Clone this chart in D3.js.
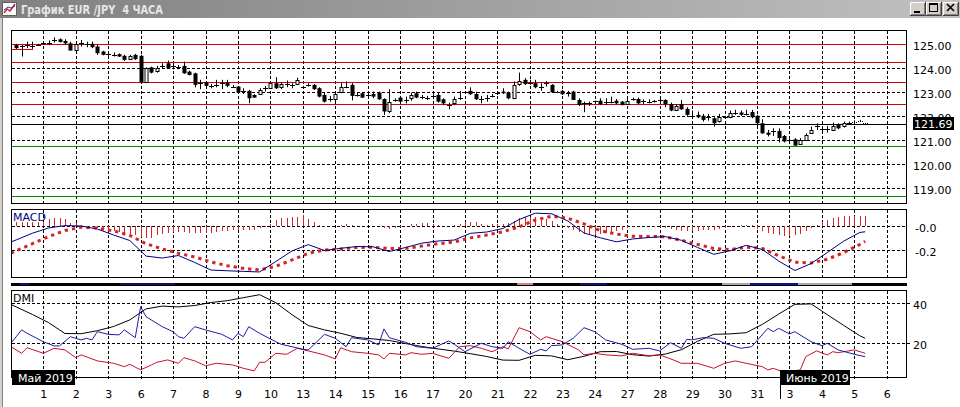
<!DOCTYPE html>
<html><head><meta charset="utf-8">
<script src="https://cdn.jsdelivr.net/npm/d3@7"></script>
<style>html,body{margin:0;padding:0;background:#fff;overflow:hidden}</style>
</head><body>
<svg id="c" width="960" height="407" xmlns="http://www.w3.org/2000/svg"></svg>
<script>
// ---------------- DATA ----------------
const titleText = "График EUR /JPY  4 ЧАСА";
const dayLabels = ["1","2","3","6","7","8","9","10","13","14","15","16","17","20","21","22","23","24","27","28","29","30","31","3","4","5","6"];
const monthLabels = ["Май 2019", "Июнь 2019"];
const priceTicks = [125,124,123,122,121,120,119];
const redLevels = [124.985, 124.235, 123.40, 122.499];
const greenLevels = [120.735, 118.67];
const lastPrice = 121.69;
const macdTicks = [0, -0.2];
const macdTickLabels = ["-0.0", "-0.2"];
const dmiTicks = [40, 20];
const firstCandle = -5; // candle index of first bar (6 bars per day, index 0 = May 1 00:00)
// [open, high, low, close]
const candles = [
[124.97,125.02,124.81,124.84],[124.90,124.97,124.49,124.91],[124.93,125.11,124.84,124.96],[124.95,125.11,124.84,124.93],[124.97,125.02,124.93,124.98],
[125.03,125.11,124.97,125.05],[125.05,125.16,124.97,125.04],[125.17,125.29,125.07,125.18],[125.21,125.25,125.07,125.10],[125.14,125.21,124.97,125.04],
[125.04,125.11,124.74,124.74],[124.79,125.04,124.77,125.02],[125.03,125.18,124.91,125.04],[125.02,125.11,124.88,125.01],[125.02,125.11,124.84,124.88],
[124.91,124.98,124.56,124.63],[124.70,124.73,124.54,124.56],[124.61,124.66,124.52,124.60],[124.57,124.66,124.49,124.56],[124.59,124.62,124.47,124.49],
[124.52,124.56,124.31,124.35],[124.38,124.56,124.35,124.52],[124.56,124.60,124.35,124.38],[124.52,124.56,123.38,123.41],[123.41,124.04,123.38,124.00],
[124.04,124.07,123.79,123.82],[123.86,124.10,123.82,124.00],[124.09,124.21,124.00,124.10],[124.21,124.32,124.00,124.00],[124.07,124.21,123.96,124.08],
[124.04,124.14,123.96,124.05],[124.10,124.28,123.77,123.79],[123.86,123.90,123.71,123.72],[123.79,123.82,123.21,123.31],[123.38,123.52,123.13,123.37],
[123.41,123.45,123.24,123.27],[123.27,123.35,123.17,123.26],[123.30,123.52,123.21,123.31],[123.37,123.52,123.13,123.38],[123.41,123.52,123.21,123.27],
[123.27,123.30,123.19,123.21],[123.24,123.27,122.99,123.00],[123.05,123.17,122.93,123.06],[123.06,123.10,122.54,122.75],[122.89,122.92,122.76,122.78],
[122.92,123.17,122.89,123.10],[123.17,123.27,123.03,123.18],[123.17,123.41,123.14,123.38],[123.38,123.63,123.14,123.17],[123.21,123.41,123.13,123.35],
[123.35,123.49,123.21,123.36],[123.31,123.38,123.17,123.30],[123.35,123.61,123.31,123.52],[123.21,123.27,123.14,123.20],[123.31,123.38,123.24,123.30],
[123.31,123.34,123.10,123.13],[123.17,123.21,122.79,122.82],[122.89,122.99,122.57,122.61],[122.75,122.85,122.61,122.74],[122.72,122.99,122.61,122.93],
[123.00,123.38,122.96,123.21],[123.23,123.45,123.17,123.24],[123.31,123.38,122.66,122.85],[122.89,122.99,122.82,122.90],[122.96,122.99,122.76,122.78],
[122.89,122.99,122.82,122.88],[122.93,123.03,122.75,122.82],[122.99,123.03,122.68,122.71],[122.72,122.75,122.06,122.20],[122.24,123.13,122.13,122.61],
[122.68,122.75,122.61,122.69],[122.78,122.85,122.57,122.61],[122.68,122.82,122.54,122.67],[122.75,122.99,122.65,122.89],[122.96,123.03,122.75,122.78],
[122.78,122.89,122.71,122.79],[122.75,122.85,122.68,122.76],[122.82,122.92,122.71,122.83],[122.89,122.99,122.57,122.61],[122.71,122.75,122.47,122.54],
[122.47,122.57,122.29,122.48],[122.54,122.82,122.47,122.71],[122.75,123.06,122.68,122.76],[122.99,123.03,122.93,123.00],[123.06,123.21,122.89,122.92],
[122.93,123.03,122.68,122.71],[122.71,122.85,122.54,122.72],[122.75,122.89,122.61,122.76],[122.85,122.93,122.79,122.86],[122.96,123.03,122.89,122.97],
[123.03,123.17,122.93,122.96],[122.99,123.03,122.71,122.75],[122.75,123.45,122.71,123.31],[123.38,123.82,123.27,123.49],[123.52,123.59,123.31,123.34],
[123.38,123.52,123.31,123.37],[123.38,123.52,123.17,123.21],[123.21,123.38,123.06,123.20],[123.38,123.47,123.24,123.37],[123.31,123.34,122.99,123.00],
[123.04,123.06,122.99,123.03],[123.06,123.10,122.89,122.92],[122.96,123.06,122.82,122.95],[123.03,123.06,122.68,122.68],[122.68,122.75,122.43,122.47],
[122.54,122.61,122.17,122.55],[122.54,122.61,122.43,122.55],[122.61,122.65,122.51,122.62],[122.65,122.75,122.47,122.51],[122.61,122.75,122.47,122.60],
[122.57,122.82,122.54,122.58],[122.65,122.72,122.51,122.54],[122.61,122.64,122.45,122.47],[122.51,122.72,122.47,122.65],[122.72,122.78,122.65,122.73],
[122.72,122.78,122.51,122.54],[122.61,122.71,122.51,122.62],[122.61,122.71,122.54,122.60],[122.61,122.68,122.57,122.62],[122.65,122.75,122.57,122.66],
[122.68,122.71,122.38,122.51],[122.51,122.57,122.21,122.24],[122.27,122.51,122.24,122.43],[122.51,122.68,122.27,122.29],[122.31,122.38,122.02,122.06],
[122.02,122.24,121.96,122.01],[122.06,122.20,121.92,121.96],[122.02,122.10,121.78,121.85],[121.96,122.10,121.82,121.97],[121.92,121.96,121.57,121.71],
[121.78,122.10,121.74,121.95],[121.96,122.02,121.92,121.97],[121.96,122.24,121.92,122.13],[122.16,122.27,122.06,122.15],[122.16,122.24,122.02,122.06],
[122.10,122.27,122.04,122.11],[122.18,122.27,121.92,121.96],[122.02,122.06,121.57,121.71],[121.71,121.88,121.27,121.29],[121.32,121.43,121.16,121.23],
[121.36,121.50,121.18,121.37],[121.39,121.50,120.91,121.09],[121.18,121.22,120.91,120.95],[121.02,121.09,120.95,121.01],[121.04,121.09,120.77,120.78],
[120.85,121.09,120.81,121.02],[121.02,121.29,120.99,121.22],[121.29,121.57,121.27,121.41],[121.57,121.71,121.43,121.58],[121.47,121.57,121.29,121.48],
[121.46,121.60,121.32,121.47],[121.43,121.74,121.39,121.60],[121.64,121.71,121.46,121.50],[121.57,121.78,121.53,121.71],[121.71,121.78,121.64,121.72],
[121.78,121.83,121.71,121.77],[121.82,121.85,121.78,121.82],[121.71,121.73,121.69,121.70]
];
// MACD histogram, one value per candle
const macdHist = [
 0.033,0.033,0.033,0.033,0.033,0.033,0.058,0.067,0.067,0.058,
 0.025,0.025,0.008,0,-0.008,-0.017,-0.025,-0.033,-0.042,-0.05,
 -0.058,-0.067,-0.075,-0.092,-0.1,-0.1,-0.075,-0.067,-0.058,-0.05,
 -0.05,-0.05,-0.058,-0.058,-0.058,-0.058,-0.058,-0.05,-0.042,-0.042,
 -0.033,-0.033,-0.033,-0.033,-0.033,-0.017,-0.008,0.017,0.05,0.067,
 0.067,0.075,0.075,0.092,0.058,0.033,0.008,-0.008,0,0,
 0.008,0.017,0.008,0,0,0,0,0,-0.017,-0.025,
 -0.017,-0.008,0,0.017,0.017,0.025,0.025,0.017,0.008,0,
 0,0.008,0.017,0.033,0.033,0.033,0.017,0.008,0.017,0.017,
 0.017,0.025,0.042,0.067,0.075,0.075,0.075,0.067,0.058,0.042,
 0.017,0.008,-0.017,-0.033,-0.05,-0.067,-0.075,-0.075,-0.067,-0.058,
 -0.05,-0.042,-0.033,-0.017,-0.008,0,0,0,-0.008,-0.008,
 -0.017,-0.025,-0.033,-0.042,-0.042,-0.042,-0.042,-0.033,-0.033,-0.033,
 -0.025,-0.017,-0.008,0,0.008,0.008,0.008,-0.025,-0.042,-0.058,
 -0.067,-0.075,-0.083,-0.083,-0.075,-0.067,-0.042,-0.017,0.008,0.033,
 0.05,0.067,0.075,0.083,0.083,0.083,0.083,0.083
];
// smooth lines: read at bar -6, then every 3 bars (-5, -2, ... 151), then last bar 152
const macdLine = [
 -0.133,
 -0.116,-0.060,-0.016,0.003,0.000,-0.025,-0.075,-0.121,-0.251,-0.267,
 -0.246,-0.304,-0.367,-0.373,-0.378,-0.383,-0.296,-0.208,-0.155,-0.204,
 -0.186,-0.171,-0.173,-0.213,-0.179,-0.143,-0.125,-0.117,-0.061,-0.050,
 -0.021,0.054,0.107,0.102,0.042,-0.058,-0.098,-0.132,-0.108,-0.096,
 -0.088,-0.119,-0.179,-0.236,-0.206,-0.161,-0.196,-0.292,-0.371,-0.313,
 -0.221,-0.127,-0.054,-0.048
];
const signalLine = [
 -0.225,
 -0.207,-0.147,-0.088,-0.038,-0.010,-0.017,-0.040,-0.079,-0.148,-0.191,
 -0.228,-0.258,-0.299,-0.331,-0.353,-0.366,-0.336,-0.283,-0.227,-0.200,
 -0.192,-0.179,-0.177,-0.188,-0.188,-0.167,-0.148,-0.133,-0.099,-0.075,
 -0.048,-0.007,0.050,0.082,0.065,0.018,-0.039,-0.067,-0.086,-0.087,
 -0.090,-0.119,-0.153,-0.187,-0.197,-0.177,-0.187,-0.248,-0.301,-0.308,
 -0.277,-0.222,-0.154,-0.128
];
const adxLine = [
 39.4,
 38.2,34.4,30.3,24.9,24.8,26.3,28.4,31.7,37.2,38.6,
 38.2,38.9,40.4,41.3,42.8,44.3,40.3,34.3,28.9,26.7,
 25.0,22.9,22.2,21.4,19.9,18.4,17.2,16.1,14.8,13.4,
 11.6,11.5,14.0,13.7,11.8,13.5,15.8,15.9,14.3,13.6,
 14.6,16.8,21.0,24.5,24.7,25.3,29.5,34.6,39.5,39.7,
 34.3,29.0,23.8,22.5
];
// jagged DI lines: [bar index, value]
const plusDI = [[-6,20],[-4,26.7],[-3,25],[0,20.8],[2,18.7],[3,18.7],[5,23.3],[7,21.7],[8,22.5],[9,21.7],[10,25.8],[12,24.5],[14,24.2],[15,26.7],[17,22.8],[18,38.3],[19,33.3],[22,28.3],[24,25.8],[25,23.3],[26,22.5],[28,28.3],[30,26.7],[33,24.5],[35,21.7],[36,25],[37,23.3],[38,28.3],[40,25],[43,20.8],[44,19.5],[46,18.3],[48,17],[49,16.7],[50,19.2],[52,24.5],[54,22.5],[56,18.3],[57,22.8],[60,21.7],[62,19.2],[63,27.2],[64,22.8],[67,20.5],[69,18.3],[72,17.5],[75,21.2],[76,19.5],[78,15.8],[81,20],[83,18.3],[85,17.5],[86,20.8],[88,17.5],[90,14.5],[92,17],[93,16.2],[94,18.8],[96,19.2],[98,22.5],[100,27.8],[102,25.8],[104,21.7],[107,19.5],[109,17],[112,17.5],[114,16.2],[116,20.3],[118,17.5],[119,22],[120,21.7],[122,22.8],[124,22.5],[126,20],[129,17.5],[131,18.3],[134,27.5],[135,25.8],[136,27.5],[138,24.7],[139,25.8],[142,20.8],[144,18.8],[145,20],[147,16.7],[150,14.5],[152,13.3]];
const minusDI = [[-6,18.3],[-4,15],[-3,17.8],[0,15],[2,17.5],[4,16.7],[6,12.8],[7,14.2],[10,11.2],[13,10],[15,8.3],[16,9.5],[18,6.7],[20,9.2],[21,10.5],[23,11.7],[25,10],[26,12.8],[28,11.2],[30,8.8],[32,10],[35,9.2],[37,7.5],[39,6.2],[40,10.5],[41,10.5],[43,15],[45,14.5],[47,17.5],[49,16.2],[52,14.2],[54,12.2],[55,17.8],[57,15.8],[60,15],[62,14.2],[63,12.2],[64,15],[67,14.2],[68,15.3],[70,14.5],[72,15],[75,12.5],[77,18.3],[79,18.8],[81,17.5],[83,15.8],[85,18.3],[86,17.2],[88,27.8],[90,25.8],[92,21.7],[93,23.3],[96,20.8],[99,16.7],[100,14.2],[102,15],[104,14.2],[107,13.7],[109,15],[112,13.8],[114,14.2],[117,11.2],[118,10],[121,10],[124,7.5],[126,10],[128,11.2],[130,10],[133,8.3],[134,6.7],[135,7.5],[137,5.5],[140,6.7],[141,13.3],[143,16.2],[145,14.2],[146,15.8],[147,15.3],[150,16.7],[152,15]];

// ---------------- DRAWING ----------------
const FONT = "'DejaVu Sans', Verdana, sans-serif";
const svg = d3.select('#c');
const PL = 11.5, PR = 906.5;
const P = {price:[30.5,203.5], macd:[209.5,277.5], dmi:[290.5,377.5]};
const x = d3.scaleLinear().domain([0,156]).range([43.3,886.8]);
const yP = d3.scaleLinear().domain([125,119]).range([44.3,188.3]);
const yM = d3.scaleLinear().domain([0,-0.2]).range([226,250]);
const yD = d3.scaleLinear().domain([40,20]).range([303.3,343.3]);
const px = v => Math.round(v) + 0.5;
const dayIdx = d3.range(0,157,6);
const lineIdx = [-6].concat(d3.range(-5,152,3), [152]);
const RED = '#d80000', GREEN = '#008c00';

// defs
const defs = svg.append('defs');
const grad = defs.append('linearGradient').attr('id','tb').attr('x1',0).attr('x2',1).attr('y1',0).attr('y2',0);
grad.append('stop').attr('offset','0%').attr('stop-color','#808080');
grad.append('stop').attr('offset','100%').attr('stop-color','#c0c0c0');
Object.entries(P).forEach(([k,[t,b]])=>{
  defs.append('clipPath').attr('id','clip-'+k).append('rect').attr('x',PL+0.5).attr('y',t+0.5).attr('width',PR-PL-1).attr('height',b-t-1);
});

// window chrome
svg.append('rect').attr('x',0).attr('y',0).attr('width',960).attr('height',407).attr('fill','#fff');
svg.append('rect').attr('x',0).attr('y',0).attr('width',960).attr('height',18).attr('fill','url(#tb)');
svg.append('rect').attr('x',0).attr('y',18).attr('width',3).attr('height',389).attr('fill','#d4d0c8');
svg.append('line').attr('x1',2.5).attr('x2',2.5).attr('y1',18).attr('y2',407).attr('stroke','#808080');
// icon
const ic = svg.append('g');
ic.append('rect').attr('x',2.5).attr('y',2.5).attr('width',14).attr('height',13).attr('fill','#fff').attr('stroke','#606060');
ic.append('polyline').attr('points','4,13 7,9 10,11 15,4').attr('fill','none').attr('stroke','#d02020').attr('stroke-width',1.5);
ic.append('polyline').attr('points','4,10 8,7 11,8 15,6').attr('fill','none').attr('stroke','#2040c0').attr('stroke-width',1);
svg.append('text').attr('x',21).attr('y',13.5).attr('font-family',"'DejaVu Sans', sans-serif").attr('font-weight','bold')
  .attr('font-size',11.5).attr('fill','#e6e6e6').attr('textLength',142).attr('lengthAdjust','spacingAndGlyphs')
  .style('white-space','pre').text(titleText);
// buttons
[910,926,943].forEach((bx,i)=>{
  const g = svg.append('g');
  g.append('rect').attr('x',bx).attr('y',2).attr('width',16).attr('height',14).attr('fill','#d4d0c8');
  g.append('path').attr('d',`M${bx+0.5},${15.5}V${2.5}H${bx+15.5}`).attr('stroke','#fff').attr('fill','none');
  g.append('path').attr('d',`M${bx},${15.5}H${bx+15.5}V${2}`).attr('stroke','#404040').attr('fill','none');
  g.append('path').attr('d',`M${bx+1},${14.5}H${bx+14.5}V${3}`).attr('stroke','#808080').attr('fill','none');
  if(i===0) g.append('rect').attr('x',bx+4).attr('y',11).attr('width',6).attr('height',2).attr('fill','#000');
  if(i===1){ g.append('rect').attr('x',bx+3.5).attr('y',3.5).attr('width',8).attr('height',8).attr('fill','none').attr('stroke','#000');
             g.append('rect').attr('x',bx+3).attr('y',3).attr('width',9).attr('height',2).attr('fill','#000'); }
  if(i===2){ g.append('path').attr('d',`M${bx+4},${4}L${bx+11},${11}M${bx+11},${4}L${bx+4},${11}`).attr('stroke','#000').attr('stroke-width',1.6); }
});

// gridlines
const grid = svg.append('g').attr('stroke','#000').attr('stroke-dasharray','3,2').attr('shape-rendering','crispEdges').attr('fill','none');
Object.entries(P).forEach(([k,[t,b]])=>{
  const bottom = k==='dmi' ? 380 : b;
  dayIdx.forEach(d=>grid.append('line').attr('x1',px(x(d))).attr('x2',px(x(d))).attr('y1',t).attr('y2',bottom));
});
priceTicks.forEach(v=>grid.append('line').attr('x1',PL).attr('x2',PR).attr('y1',px(yP(v))).attr('y2',px(yP(v))));
macdTicks.forEach(v=>grid.append('line').attr('x1',PL).attr('x2',PR).attr('y1',px(yM(v))).attr('y2',px(yM(v))));
dmiTicks.forEach(v=>grid.append('line').attr('x1',PL).attr('x2',911).attr('y1',px(yD(v))).attr('y2',px(yD(v))));

// price panel levels: 1px-high solid rects
const lv = svg.append('g');
const rowOf = v => Math.floor(yP(v));
redLevels.forEach(v=>lv.append('rect').attr('x',12).attr('y',rowOf(v)).attr('width',894).attr('height',1).attr('fill',RED));
greenLevels.forEach(v=>lv.append('rect').attr('x',12).attr('y',rowOf(v)).attr('width',894).attr('height',1).attr('fill',GREEN));
lv.append('rect').attr('x',12).attr('y',rowOf(124.79)).attr('width',Math.round(x(-2))-12).attr('height',1).attr('fill',RED);
lv.append('rect').attr('x',Math.round(x(-2))).attr('y',rowOf(124.985)).attr('width',1).attr('height',rowOf(124.79)-rowOf(124.985)+1).attr('fill',RED);
lv.append('rect').attr('x',12).attr('y',Math.round(yP(lastPrice))).attr('width',894).attr('height',1).attr('fill','#000');

// candles
const pg = svg.append('g').attr('clip-path','url(#clip-price)');
const cg = pg.append('g');
candles.forEach((c,i)=>{
  const j = firstCandle + i;
  const cx = Math.round(x(j));
  const [o,h,l,cl] = c;
  const g = cg.append('g');
  if(j >= 150) g.attr('stroke-dasharray','1,1');
  g.append('line').attr('x1',cx+0.5).attr('x2',cx+0.5).attr('y1',yP(h)).attr('y2',yP(l)).attr('stroke','#000');
  const yo = yP(o), yc = yP(cl);
  const top = Math.min(yo,yc), bot = Math.max(yo,yc);
  if(bot-top < 1.5){
    g.append('line').attr('x1',cx-2).attr('x2',cx+3).attr('y1',Math.round(yc)+0.5).attr('y2',Math.round(yc)+0.5).attr('stroke','#000');
  } else if(cl < o){
    g.append('rect').attr('x',cx-1.5).attr('y',top).attr('width',4).attr('height',bot-top).attr('fill','#000');
  } else {
    g.append('rect').attr('x',cx-1).attr('y',Math.round(top)+0.5).attr('width',3).attr('height',Math.round(bot-top)).attr('fill','#fff').attr('stroke','#000');
  }
});

// MACD panel
const mg = svg.append('g').attr('clip-path','url(#clip-macd)');
macdHist.forEach((v,i)=>{
  const j = firstCandle + i;
  if(v===0) return;
  mg.append('line').attr('x1',px(x(j))).attr('x2',px(x(j))).attr('y1',yM(0)).attr('y2',yM(v))
    .attr('stroke','#d02828').attr('shape-rendering','crispEdges');
});
const lineM = d3.line().x(d=>x(d[0])).y(d=>yM(d[1]));
mg.append('path').attr('d',lineM(lineIdx.map((j,i)=>[j,signalLine[i]]))).attr('fill','none')
  .attr('stroke','#d42424').attr('stroke-width',3).attr('stroke-dasharray','3.3,4');
mg.append('path').attr('d',lineM(lineIdx.map((j,i)=>[j,macdLine[i]]))).attr('fill','none')
  .attr('stroke','#000080').attr('stroke-width',1);
svg.append('text').attr('x',13).attr('y',220.5).attr('font-family',FONT).attr('font-size',11).attr('fill','#000080').text('MACD');

// DMI panel
const dg = svg.append('g').attr('clip-path','url(#clip-dmi)');
const lineD = d3.line().x(d=>x(d[0])).y(d=>yD(d[1]));
dg.append('path').attr('d',lineD(lineIdx.map((j,i)=>[j,adxLine[i]]))).attr('fill','none').attr('stroke','#000');
dg.append('path').attr('d',lineD(minusDI)).attr('fill','none').attr('stroke','#c8102e');
dg.append('path').attr('d',lineD(plusDI)).attr('fill','none').attr('stroke','#1c1ca8');
svg.append('text').attr('x',13).attr('y',301.5).attr('font-family',FONT).attr('font-size',11).attr('fill','#000').text('DMI');

// panel frames
const fr = svg.append('g').attr('fill','none').attr('stroke','#000').attr('shape-rendering','crispEdges');
Object.values(P).forEach(([t,b])=>fr.append('rect').attr('x',PL).attr('y',t).attr('width',PR-PL).attr('height',b-t));

// separator bar between MACD and DMI
svg.append('rect').attr('x',11).attr('y',283).attr('width',896).attr('height',3).attr('fill','#000');
[[517,533,'#d88080'],[580,607,'#101070'],[722,852,'#a8a8a8'],[750,798,'#101090'],[20,30,'#101060'],[120,175,'#101060']]
  .forEach(([a,b,c])=>svg.append('rect').attr('x',a).attr('y',283).attr('width',b-a).attr('height',2).attr('fill',c));

// axes
function styleAxis(g){ g.select('.domain').remove(); g.attr('font-family',FONT).attr('font-size',11); g.selectAll('text').attr('fill','#000'); }
svg.append('g').attr('transform','translate(907,1.5)')
  .call(d3.axisRight(yP).tickValues(priceTicks).tickFormat(d3.format('.2f')).tickSize(0).tickPadding(6)).call(styleAxis);
svg.append('g').attr('transform','translate(909,2)')
  .call(d3.axisRight(yM).tickValues(macdTicks).tickFormat((d,i)=>macdTickLabels[i]).tickSize(0).tickPadding(6)).call(styleAxis);
svg.append('g').attr('transform','translate(907,1.5)')
  .call(d3.axisRight(yD).tickValues(dmiTicks).tickFormat(d3.format('d')).tickSize(0).tickPadding(6)).call(styleAxis);
svg.append('g').attr('transform','translate(0,387)')
  .call(d3.axisBottom(x).tickValues(dayIdx).tickFormat((d,i)=>dayLabels[i]).tickSize(0).tickPadding(3)).call(styleAxis);

// last price tag (covers the 122.00 label partly, as in the terminal)
const ly = yP(lastPrice);
svg.append('rect').attr('x',913).attr('y',Math.round(ly)-7).attr('width',41).attr('height',13).attr('fill','#000');
svg.append('text').attr('x',914).attr('y',Math.round(ly)+4).attr('font-family',FONT).attr('font-size',11).attr('fill','#fff').text(d3.format('.2f')(lastPrice));

// month tags
svg.append('rect').attr('x',12).attr('y',370).attr('width',63).attr('height',15).attr('fill','#000');
svg.append('text').attr('x',18).attr('y',382).attr('font-family',FONT).attr('font-size',11).attr('fill','#fff').text(monthLabels[0]);
svg.append('line').attr('x1',780.5).attr('x2',780.5).attr('y1',370).attr('y2',399).attr('stroke','#000');
svg.append('rect').attr('x',781).attr('y',370).attr('width',69).attr('height',15).attr('fill','#000');
svg.append('text').attr('x',786).attr('y',382).attr('font-family',FONT).attr('font-size',11).attr('fill','#fff').text(monthLabels[1]);
</script>
</body></html>
